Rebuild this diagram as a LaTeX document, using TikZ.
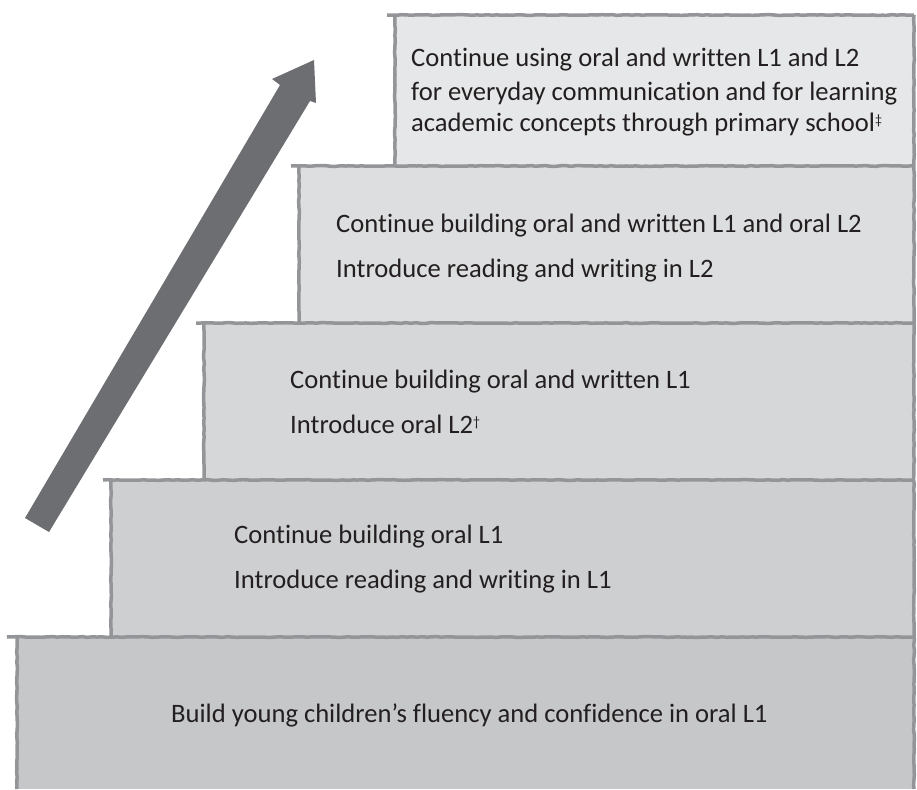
\documentclass[tikz,border=0pt]{standalone}
\usepackage{fontspec}
\setmainfont[Ligatures=NoCommon]{Carlito}
\usetikzlibrary{decorations.pathmorphing}
\definecolor{edgec}{HTML}{939598}
\definecolor{arrowc}{HTML}{6D6E71}
\definecolor{txtc}{HTML}{231F20}
\definecolor{fa}{HTML}{C6C7C9}
\definecolor{fb}{HTML}{CECFD1}
\definecolor{fc}{HTML}{D6D7D9}
\definecolor{fd}{HTML}{DDDEDF}
\definecolor{fe}{HTML}{E6E7E8}
\begin{document}
\begin{tikzpicture}[x=1pt,y=-1pt,
  rim/.style={draw=edgec, line width=3.5pt, decorate,
    decoration={random steps, segment length=5pt, amplitude=0.35pt}},
  lbl/.style={anchor=base west, inner sep=0pt, text=txtc,
    font=\fontsize{26.6}{30}\selectfont}]
\useasboundingbox (0,0) rectangle (917,789);
% step fills
\fill[fa] (17,637) rectangle (914,789);
\fill[fb] (111,480) rectangle (914,637);
\fill[fc] (204,323) rectangle (914,480);
\fill[fd] (299,166) rectangle (914,323);
\fill[fe] (395,15) rectangle (914,166);
% top edges
\draw[rim] (7,637) -- (914,637);
\draw[rim] (103,480) -- (914,480);
\draw[rim] (196,323) -- (914,323);
\draw[rim] (291,166) -- (914,166);
\draw[rim] (387,15) -- (914,15);
% left edges
\draw[rim] (17,637) -- (17,789);
\draw[rim] (111,480) -- (111,637);
\draw[rim] (204,323) -- (204,480);
\draw[rim] (299,166) -- (299,323);
\draw[rim] (395,15) -- (395,166);
% right edge
\draw[rim] (914,15) -- (914,789);
% arrow
\fill[arrowc] (25,518) -- (280,85) -- (272,79) -- (314,60) -- (316,103) -- (310,101) -- (49,532) -- cycle;
% texts
\node[lbl] (e1) at (411,67) {Continue using oral and written L1 and L2};
\node[lbl] (e2) at (411,100) {for everyday communication and for learning};
\node[lbl] (e3) at (411,131) {academic concepts through primary school\raisebox{0.55ex}{\fontsize{14}{15}\selectfont ‡}};
\node[lbl] (d1) at (336,232) {Continue building oral and written L1 and oral L2};
\node[lbl] (d2) at (336,277) {Introduce reading and writing in L2};
\node[lbl] (c1) at (290,388) {Continue building oral and written L1};
\node[lbl] (c2) at (290,433) {Introduce oral L2\raisebox{0.55ex}{\fontsize{14}{15}\selectfont †}};
\node[lbl] (b1) at (234,543) {Continue building oral L1};
\node[lbl] (b2) at (234,588) {Introduce reading and writing in L1};
\node[lbl] (a1) at (171,722) {Build young children’s fluency and confidence in oral L1};
\end{tikzpicture}
\end{document}
